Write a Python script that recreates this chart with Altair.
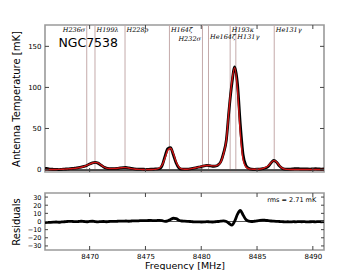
import altair as alt
import pandas as pd

# ---------------- data ----------------
freq = [8466.00, 8466.25, 8466.50, 8466.75, 8467.00, 8467.25, 8467.50, 8467.75,
        8468.00, 8468.25, 8468.50, 8468.75, 8469.00, 8469.25, 8469.50, 8469.75,
        8470.00, 8470.25, 8470.50, 8470.75, 8471.00, 8471.25, 8471.50, 8471.75,
        8472.00, 8472.25, 8472.50, 8472.75, 8473.00, 8473.25, 8473.50, 8473.75,
        8474.00, 8474.25, 8474.50, 8474.75, 8475.00, 8475.25, 8475.50, 8475.75,
        8476.00, 8476.25, 8476.50, 8476.75, 8477.00, 8477.25, 8477.50, 8477.75,
        8478.00, 8478.25, 8478.50, 8478.75, 8479.00, 8479.25, 8479.50, 8479.75,
        8480.00, 8480.25, 8480.50, 8480.75, 8481.00, 8481.25, 8481.50, 8481.75,
        8482.00, 8482.25, 8482.50, 8482.75, 8483.00, 8483.25, 8483.50, 8483.75,
        8484.00, 8484.25, 8484.50, 8484.75, 8485.00, 8485.25, 8485.50, 8485.75,
        8486.00, 8486.25, 8486.50, 8486.75, 8487.00, 8487.25, 8487.50, 8487.75,
        8488.00, 8488.25, 8488.50, 8488.75, 8489.00, 8489.25, 8489.50, 8489.75,
        8490.00, 8490.25, 8490.50, 8490.75, 8491.00]

observed = [1.5, 1.0, 0.5, 0.3, 0.2, 0.0, 0.3, 0.5,
            0.8, 1.0, 1.3, 1.8, 2.3, 3.0, 3.8, 5.0,
            6.8, 8.2, 8.8, 7.8, 5.5, 3.2, 1.8, 1.2,
            1.0, 1.2, 1.5, 2.0, 2.4, 2.5, 2.0, 1.3,
            0.8, 0.6, 0.5, 0.4, 0.3, 0.3, 0.4, 0.6,
            0.8, 1.0, 5.0, 16.0, 25.5, 26.5, 18.0, 8.0,
            2.0, 0.5, 0.4, 0.5, 0.8, 1.3, 2.0, 2.8,
            3.6, 4.5, 5.0, 4.6, 4.0, 4.3, 5.5, 9.5,
            20.0, 36.0, 74.0, 105.0, 125.0, 104.0, 55.0, 18.0,
            5.0, 1.5, 0.5, 0.3, 0.4, 0.6, 1.0, 1.8,
            3.8, 8.0, 11.0, 9.0, 4.5, 1.6, 0.6, 0.4,
            0.6, 0.9, 1.2, 1.0, 0.8, 0.9, 0.7, 0.6,
            0.8, 1.0, 0.8, 0.6, 0.7]

model = [0.0, 0.0, 0.1, 0.1, 0.1, 0.2, 0.3, 0.5,
         0.7, 0.9, 1.2, 1.6, 2.1, 2.8, 3.7, 5.0,
         6.6, 8.0, 8.7, 8.0, 5.8, 3.4, 1.8, 1.2,
         1.1, 1.3, 1.6, 2.0, 2.3, 2.3, 1.8, 1.1,
         0.6, 0.3, 0.2, 0.1, 0.1, 0.1, 0.1, 0.2,
         0.5, 1.8, 5.5, 14.0, 23.5, 26.0, 19.5, 9.5,
         3.0, 0.8, 0.3, 0.4, 0.8, 1.4, 2.2, 3.0,
         3.9, 4.6, 5.0, 4.9, 4.5, 4.5, 5.5, 9.0,
         19.0, 36.0, 75.0, 108.0, 124.0, 97.0, 44.0, 12.0,
         3.0, 1.0, 0.5, 0.3, 0.3, 0.6, 1.2, 2.5,
         4.5, 8.3, 10.8, 9.2, 4.8, 1.8, 0.5, 0.2,
         0.1, 0.1, 0.1, 0.1, 0.1, 0.1, 0.1, 0.1,
         0.1, 0.1, 0.1, 0.1, 0.1]

residual = [-1.5, -1.2, -1.0, -0.8, -0.6, -0.9, -0.5, -0.3,
            0.0, 0.2, 0.0, -0.2, 0.0, 0.3, 0.0, -0.3,
            0.1, 0.3, -0.2, -0.4, -0.1, 0.0, -0.3, 0.0,
            0.2, 0.1, 0.3, 0.5, 0.4, 0.6, 0.3, 0.6,
            0.8, 0.7, 1.0, 1.1, 1.0, 1.2, 1.3, 1.0,
            1.2, 1.4, 1.0, 0.2, 0.8, 2.5, 4.0, 3.5,
            1.5, 0.6, 0.4, 0.2, 0.0, -0.3, -0.5, -0.4,
            -0.6, -0.5, -0.2, -0.4, -0.6, -0.3, 0.0, 0.5,
            0.8, 0.0, -2.5, -4.5, 0.5, 9.0, 13.5, 8.0,
            2.5, 0.5, 0.0, 0.3, 0.8, 1.5, 1.8, 1.5,
            1.0, 0.6, 0.4, 0.2, 0.0, -0.2, -0.4, -0.3,
            -0.5, -0.2, -0.4, -0.1, -0.3, -0.2, -0.5, -0.3,
            -0.2, -0.4, -0.1, -0.3, -0.2]

line_names = ["H236σ", "H199λ", "H228ρ", "H164ζ", "H232σ",
              "He164ζ", "H193κ", "H131γ", "He131γ"]
line_freqs = [8469.74, 8470.48, 8473.17, 8477.15, 8480.11,
              8480.65, 8482.59, 8483.10, 8486.54]
line_label_y = [170, 170, 170, 170, 159, 161, 170, 161, 170]
line_label_side = ["right", "left", "left", "left", "right",
                   "left", "left", "left", "left"]

x_ticks = [8470, 8475, 8480, 8485, 8490]
y_ticks_top = [0, 50, 100, 150]
y_ticks_res = [-30, -20, -10, 0, 10, 20, 30]

source_name = ["NGC7538"]
rms_text = ["rms =  2.71 mK"]

# ---------------- layout ----------------
W, H1, H2 = 279, 147, 57
XDOM = [8466, 8491]
YDOM_TOP = [-3, 176]
YDOM_RES = [-35, 35]

spec = pd.DataFrame({"f": freq, "obs": observed, "mod": model, "res": residual})
lines = pd.DataFrame({"f": line_freqs, "name": line_names,
                      "ly": line_label_y, "side": line_label_side})
xt = pd.DataFrame({"t": x_ticks})
yt_top = pd.DataFrame({"t": y_ticks_top})
yt_res = pd.DataFrame({"t": y_ticks_res})

xs = alt.Scale(domain=XDOM, nice=False, zero=False)
ys_top = alt.Scale(domain=YDOM_TOP, nice=False, zero=False)
ys_res = alt.Scale(domain=YDOM_RES, nice=False, zero=False)

tick_col = "#444444"

# ----- top panel -----
YA = alt.Axis(values=y_ticks_top, ticks=False, domain=False, grid=False,
              labelFontSize=7, labelPadding=4, labelOverlap=False,
              title="Antenna Temperature [mK]", titleFontSize=10,
              titleFontWeight="normal", titlePadding=2,
              minExtent=22, maxExtent=22)


def XT(field=None, datum=None):
    if datum is not None:
        return alt.X(datum=datum, scale=xs, axis=None)
    return alt.X(field, scale=xs, axis=None)


def YT(field=None, datum=None):
    if datum is not None:
        return alt.Y(datum=datum, scale=ys_top, axis=YA)
    return alt.Y(field, scale=ys_top, axis=YA)


vlines = alt.Chart(lines).mark_rule(color="#c4aaaa", strokeWidth=1).encode(
    x=XT("f:Q"))

zero_top = alt.Chart(spec).mark_rule(color="#555555", strokeWidth=0.8).encode(
    y=YT(datum=0))

obs_line = alt.Chart(spec).mark_line(color="black", strokeWidth=2.8,
                                     interpolate="monotone").encode(
    x=XT("f:Q"), y=YT("obs:Q"))

mod_line = alt.Chart(spec).mark_line(color="#d01515", strokeWidth=1.4,
                                     interpolate="monotone").encode(
    x=XT("f:Q"), y=YT("mod:Q"))

lab_left = alt.Chart(lines).transform_filter(alt.datum.side == "left").mark_text(
    font="DejaVu Serif", fontStyle="italic", fontSize=6.5, align="left",
    baseline="middle", dx=1.5, color="black").encode(
    x=XT("f:Q"), y=YT("ly:Q"), text="name:N")

lab_right = alt.Chart(lines).transform_filter(alt.datum.side == "right").mark_text(
    font="DejaVu Serif", fontStyle="italic", fontSize=6.5, align="right",
    baseline="middle", dx=-1.5, color="black").encode(
    x=XT("f:Q"), y=YT("ly:Q"), text="name:N")

src = alt.Chart(pd.DataFrame({"s": source_name})).mark_text(
    font="DejaVu Sans", fontSize=12.5, align="left", baseline="middle",
    color="black").encode(
    x=XT(datum=8467.2), y=YT(datum=154), text="s:N")

xt_b = alt.Chart(xt).mark_rule(color=tick_col, strokeWidth=1).encode(
    x=XT("t:Q"), y=alt.value(H1), y2=alt.value(H1 - 4))
xt_t = alt.Chart(xt).mark_rule(color=tick_col, strokeWidth=1).encode(
    x=XT("t:Q"), y=alt.value(0), y2=alt.value(4))
yt_l = alt.Chart(yt_top).mark_rule(color=tick_col, strokeWidth=1).encode(
    y=YT("t:Q"), x=alt.value(0), x2=alt.value(4))
yt_r = alt.Chart(yt_top).mark_rule(color=tick_col, strokeWidth=1).encode(
    y=YT("t:Q"), x=alt.value(W - 4), x2=alt.value(W))

top = alt.layer(vlines, zero_top, obs_line, mod_line, lab_left, lab_right, src,
                xt_b, xt_t, yt_l, yt_r).properties(width=W, height=H1)

# ----- residual panel -----
RYA = alt.Axis(values=y_ticks_res, ticks=False, domain=False, grid=False,
               labelFontSize=6.5, labelPadding=4, labelOverlap=False,
               title="Residuals", titleFontSize=10,
               titleFontWeight="normal", titlePadding=2,
               minExtent=22, maxExtent=22)
RXA = alt.Axis(values=x_ticks, ticks=False, domain=False, grid=False,
               labelFontSize=7, labelPadding=2, format="d", labelOverlap=False,
               title="Frequency [MHz]", titleFontSize=9.5,
               titleFontWeight="normal", titlePadding=1)


def XR(field=None, datum=None):
    if datum is not None:
        return alt.X(datum=datum, scale=xs, axis=RXA)
    return alt.X(field, scale=xs, axis=RXA)


def YR(field=None, datum=None):
    if datum is not None:
        return alt.Y(datum=datum, scale=ys_res, axis=RYA)
    return alt.Y(field, scale=ys_res, axis=RYA)


zero_res = alt.Chart(spec).mark_rule(color="#555555", strokeWidth=0.8).encode(
    y=YR(datum=0))

res_line = alt.Chart(spec).mark_line(color="black", strokeWidth=2.8,
                                     interpolate="monotone").encode(
    x=XR("f:Q"), y=YR("res:Q"))

rms = alt.Chart(pd.DataFrame({"s": rms_text})).mark_text(
    font="DejaVu Sans", fontSize=6.5, align="right", baseline="middle",
    color="black").encode(
    x=XR(datum=8490.3), y=YR(datum=27), text="s:N")

rxt_b = alt.Chart(xt).mark_rule(color=tick_col, strokeWidth=1).encode(
    x=XR("t:Q"), y=alt.value(H2), y2=alt.value(H2 - 4))
rxt_t = alt.Chart(xt).mark_rule(color=tick_col, strokeWidth=1).encode(
    x=XR("t:Q"), y=alt.value(0), y2=alt.value(4))
ryt_l = alt.Chart(yt_res).mark_rule(color=tick_col, strokeWidth=1).encode(
    y=YR("t:Q"), x=alt.value(0), x2=alt.value(3))
ryt_r = alt.Chart(yt_res).mark_rule(color=tick_col, strokeWidth=1).encode(
    y=YR("t:Q"), x=alt.value(W - 3), x2=alt.value(W))

bottom = alt.layer(zero_res, res_line, rms, rxt_b, rxt_t, ryt_l, ryt_r).properties(
    width=W, height=H2)

chart = alt.vconcat(top, bottom, spacing=15).properties(
    padding={"left": 2, "top": 15, "right": 5, "bottom": 0},
    background="white",
).configure_view(
    stroke="#9a9a9a", strokeWidth=1.6
).configure_axis(
    labelFont="DejaVu Sans", titleFont="DejaVu Sans",
    labelColor="black", titleColor="black"
)

chart.save("out.html", embed_options={"renderer": "svg", "actions": False})
